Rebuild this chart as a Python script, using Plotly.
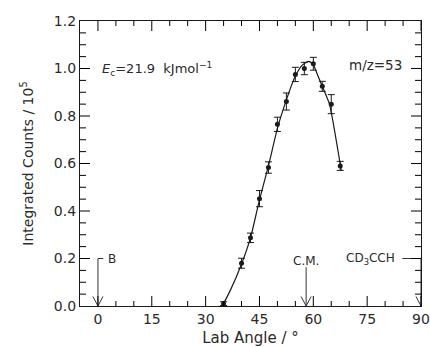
import plotly.graph_objects as go

# Data points (lab angle, integrated counts /1e5, error)
angles = [35, 40, 42.5, 45, 47.5, 50, 52.5, 55, 57.5, 60, 62.5, 65, 67.5]
counts = [0.01, 0.18, 0.287, 0.452, 0.583, 0.765, 0.861, 0.975, 1.0, 1.02, 0.925, 0.85, 0.59]
errors = [0.008, 0.021, 0.02, 0.034, 0.024, 0.03, 0.036, 0.03, 0.026, 0.027, 0.021, 0.04, 0.019]

# Fitted curve
fit_x = [34.4, 35, 37, 40, 42.5, 45, 47.5, 50, 52.5, 55, 57, 58.7, 60, 61, 62.5, 64.5, 66.8, 67.8]
fit_y = [0.0, 0.012, 0.07, 0.177, 0.287, 0.447, 0.59, 0.748, 0.868, 0.968, 1.015, 1.03, 1.015, 0.98, 0.925, 0.85, 0.66, 0.57]

# Marker arrows (angle, label, top y)
mark_angles = [0, 58, 90]
mark_tops = [0.2, 0.163, 0.2]
mark_labels = ["B", "C.M.", "CD<sub>3</sub>CCH"]

X_RANGE = [-5, 90]
Y_RANGE = [0, 1.2]
x_major = [0, 15, 30, 45, 60, 75, 90]
x_minor = [5, 10, 20, 25, 35, 40, 50, 55, 65, 70, 80, 85]
y_major = [0.2, 0.4, 0.6, 0.8, 1.0]
y_minor = [0.05, 0.1, 0.15, 0.25, 0.3, 0.35, 0.45, 0.5, 0.55, 0.65, 0.7, 0.75,
           0.85, 0.9, 0.95, 1.05, 1.1, 1.15]

FONT = "DejaVu Sans, Liberation Sans, Arial, sans-serif"
INK = "#1a1a1a"
TXT = "#2a2a2a"

fig = go.Figure()

fig.add_trace(go.Scatter(
    x=fit_x, y=fit_y, mode="lines",
    line=dict(color=INK, width=1.2, shape="spline", smoothing=0.6),
    hoverinfo="skip", showlegend=False))

fig.add_trace(go.Scatter(
    x=angles, y=counts, mode="markers",
    marker=dict(color=INK, size=5),
    error_y=dict(type="data", array=errors, color=INK, thickness=1, width=3.5),
    showlegend=False))

shapes = []
arrow_col = "#333333"
hw, hh = 1.4, 0.04
for a, top in zip(mark_angles, mark_tops):
    shapes.append(dict(type="line", xref="x", yref="y", x0=a, x1=a, y0=top, y1=0,
                       line=dict(color=arrow_col, width=1)))
    shapes.append(dict(type="path", xref="x", yref="y",
                       path=f"M {a-hw},{hh} L {a},0 L {a+hw},{hh}",
                       line=dict(color=arrow_col, width=1)))

# label connectors
shapes.append(dict(type="line", xref="x", yref="y", x0=mark_angles[0], x1=mark_angles[0] + 1.5,
                   y0=mark_tops[0], y1=mark_tops[0], line=dict(color=arrow_col, width=1)))
shapes.append(dict(type="line", xref="x", yref="y", x0=mark_angles[2] - 5.2, x1=mark_angles[2],
                   y0=mark_tops[2], y1=mark_tops[2], line=dict(color=arrow_col, width=1)))

# inward tick marks on all four sides (pixel lengths)
tick_line = dict(color="black", width=1)
for vals, ln in ((x_major, 10), (x_minor, 5)):
    for v in vals:
        shapes.append(dict(type="line", xref="x", yref="paper", ysizemode="pixel", yanchor=0,
                           x0=v, x1=v, y0=0, y1=ln, line=tick_line))
        shapes.append(dict(type="line", xref="x", yref="paper", ysizemode="pixel", yanchor=1,
                           x0=v, x1=v, y0=0, y1=-ln, line=tick_line))
for vals, ln in ((y_major, 10), (y_minor, 6)):
    for v in vals:
        shapes.append(dict(type="line", xref="paper", yref="y", xsizemode="pixel", xanchor=0,
                           y0=v, y1=v, x0=0, x1=ln, line=tick_line))
        shapes.append(dict(type="line", xref="paper", yref="y", xsizemode="pixel", xanchor=1,
                           y0=v, y1=v, x0=0, x1=-ln, line=tick_line))

annotations = [
    dict(x=mark_angles[0] + 2.2, y=mark_tops[0], text=mark_labels[0], showarrow=False,
         xanchor="left", yanchor="middle", font=dict(size=12, color=TXT, family=FONT)),
    dict(x=mark_angles[1], y=0.19, text=mark_labels[1], showarrow=False,
         xanchor="center", yanchor="middle", font=dict(size=12, color=TXT, family=FONT)),
    dict(x=mark_angles[2] - 6.6, y=mark_tops[2], text=mark_labels[2], showarrow=False,
         xanchor="right", yanchor="middle", font=dict(size=12, color=TXT, family=FONT)),
    dict(x=0.6, y=1.0, text="<i>E</i><sub>c</sub>=21.9  kJmol<sup>−1</sup>", showarrow=False,
         xanchor="left", yanchor="middle", font=dict(size=13, color=TXT, family=FONT)),
    dict(x=77.3, y=1.015, text="m/z=53", showarrow=False,
         xanchor="center", yanchor="middle", font=dict(size=13.5, color=TXT, family=FONT)),
]

fig.update_layout(
    width=430, height=347,
    margin=dict(l=80, r=9, t=21, b=41),
    plot_bgcolor="white", paper_bgcolor="white",
    font=dict(family=FONT, color=TXT, size=13),
    shapes=shapes, annotations=annotations,
    xaxis=dict(range=X_RANGE, tickvals=x_major, ticks="",
               showline=True, linecolor=INK, linewidth=1.3, mirror=True,
               showgrid=False, zeroline=False, automargin=False,
               tickfont=dict(size=14, color=TXT),
               title=dict(text="Lab Angle / °", font=dict(size=15, color=TXT), standoff=11)),
    yaxis=dict(range=Y_RANGE, tickmode="linear", tick0=0, dtick=0.2, tickformat=".1f",
               ticks="", showline=True, linecolor=INK, linewidth=1.3, mirror=True,
               showgrid=False, zeroline=False, automargin=False,
               tickfont=dict(size=14, color=TXT),
               title=dict(text="Integrated Counts / 10<sup>5</sup>", font=dict(size=14, color=TXT),
                          standoff=16)),
)

fig.write_html("out.html")
